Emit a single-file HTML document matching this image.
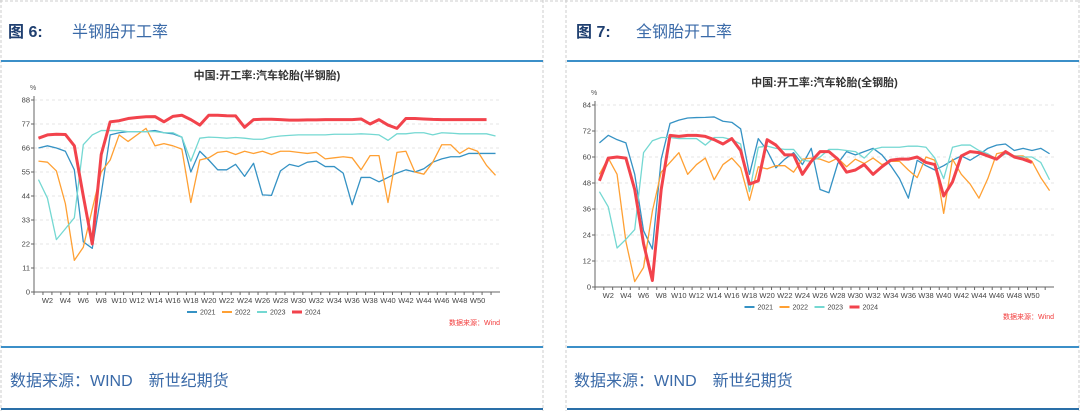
<!DOCTYPE html>
<html><head><meta charset="utf-8">
<style>
html,body{margin:0;padding:0;background:#fff;}
body{width:1080px;height:411px;overflow:hidden;position:relative;font-family:"Liberation Sans","Noto Sans CJK SC",sans-serif;}
svg{position:absolute;left:0;top:0;}
</style></head>
<body>
<svg id="s" width="1080" height="411">
  <g>
    <line x1="1" y1="0" x2="1" y2="411" stroke="#ccc" stroke-dasharray="3,2"/>
    <line x1="543" y1="0" x2="543" y2="411" stroke="#ccc" stroke-dasharray="3,2"/>
    <line x1="566" y1="0" x2="566" y2="411" stroke="#ccc" stroke-dasharray="3,2"/>
    <line x1="1079" y1="0" x2="1079" y2="411" stroke="#ccc" stroke-dasharray="3,2"/>
    <line x1="0" y1="1" x2="1080" y2="1" stroke="#ccc" stroke-dasharray="3,2"/>
    <rect x="1" y="60" width="542" height="2" fill="#3b8fc8"/>
    <rect x="567" y="60" width="512" height="2" fill="#3b8fc8"/>
    <rect x="1" y="346" width="542" height="2" fill="#3b8fc8"/>
    <rect x="567" y="346" width="512" height="2" fill="#3b8fc8"/>
    <rect x="1" y="408" width="542" height="2" fill="#2a6fa8"/>
    <rect x="567" y="408" width="512" height="2" fill="#2a6fa8"/>
  </g>
  <text x="8" y="37" font-size="16" fill="#1f3f70" font-weight="bold">图 6:</text>
  <text x="72" y="37" font-size="16" fill="#3a6aa8">半钢胎开工率</text>
  <text x="576" y="37" font-size="16" fill="#1f3f70" font-weight="bold">图 7:</text>
  <text x="636" y="37" font-size="16" fill="#3a6aa8">全钢胎开工率</text>
  <text x="10" y="386" font-size="16" fill="#3a6aa8">数据来源：WIND　新世纪期货</text>
  <text x="574" y="386" font-size="16" fill="#3a6aa8">数据来源：WIND　新世纪期货</text>
</svg>
<script>
const weeks = Array.from({length:52},(_,i)=>'W'+(i+1));
const semi2021=[66,67,66,64.5,56,23,20,45,72,73,73.5,73.5,73.5,74,73,72.5,71,55,64.5,60.5,56,56,58.5,53,59,44.5,44.3,55.5,58.5,57.5,59.5,60,57.5,57.5,54.5,40,52.5,52.5,50.5,52.5,54.5,56,55,56.5,59.5,61,62,62,63.5,63.5,63.5,63.5];
const semi2022=[60,59.5,55.5,40.5,14.5,20.5,38,55,60.5,72,69,72,75,67,68,67,65.5,41,60.5,61.5,64,64.5,63,64.5,63.5,64.5,63,64.5,64.5,64,63.5,64,61,61.5,62,61.5,56,62.5,62.5,41,64,64.5,55,54,59.5,67.5,67.5,63.5,66,64.5,58,53.5];
const semi2023=[51.5,43,24,29,34,67.5,72,74,74,74,73.5,73.5,73.5,73.5,73,73,71,60,70.5,71,70.8,70.5,70.8,70.5,70,70,71,71.5,71.8,72,72,72,72,72.3,72.3,72.3,72.5,72.3,72,69.5,72.5,72.5,73,73,72,73,72.8,72.5,72.5,72.5,72.5,71.5];
const semi2024=[70.5,72,72.3,72.2,67,44,22,63,78,78.5,79.5,80,80.3,80.4,78,80.5,81,79,76.5,81,81,80.8,80.7,75.5,79,79.2,79.2,79,78.8,78.8,78.9,78.9,79,79,79,79,79.3,77,79,76.5,75,79.5,79.5,79.3,79.1,79,79,79,79,79,79];
const full2021=[66.5,70,68,66.5,52,26,17.5,59,75.5,77,78,78.2,78.3,78.5,76.5,76,73,52,68.5,63,55,59,62,56.5,64,45,43.5,57,62.5,61,62.5,64,61,56,50,41,58.5,56,54,56,58.5,60.5,58.5,61,64,65.5,66,63,64,63,64,61.5];
const full2022=[52,59.5,52,21,2.5,9,35,53,57.5,62,52,56.5,59.5,49.5,56.5,59.5,55,40,55.5,54.5,56,56,53,59,59.5,59,57.5,59.5,55.5,59,57,59.5,56.5,58,58,54,50.5,60,58.5,34,59,52,47.5,41,50,61.5,62.5,60.5,60.5,58,50.5,44.5];
const full2023=[44,37,18,22,26.5,62,67.5,69,69,68.5,68.5,68.5,65.5,69,69,68,66,44,64.5,65,64,63.5,63.5,58.5,58,60,63.5,63.5,63,62.5,59.5,63.5,64.5,64.5,64.5,65,65,64.5,59.5,50,64.5,65.5,65.5,63,61.5,59,61.5,60.5,60,60,57.5,49.5];
const full2024=[49,59.5,60,59.5,45,20,3,45,70,69.5,70,70,69.5,68,66,68.5,63,47.5,49,68,65.5,61,61,52,58,62.5,62.5,59,53,54,56.5,52,55.5,58.5,59,59,60,57.5,56.5,42,48.5,60.5,62.5,62,60.5,59,62.5,60,59,57.5];
const semiTicks=[0,11,22,33,44,55,66,77,88];
const fullTicks=[0,12,24,36,48,60,72,84];
const years=['2021','2022','2023','2024'];
const colors=['#3592c4','#ffa033','#74d8d2','#f2434c'];
const NS='http://www.w3.org/2000/svg';
const svg=document.getElementById('s');
function mk(tag,attrs,parent){const e=document.createElementNS(NS,tag);for(const k in attrs)e.setAttribute(k,attrs[k]);(parent||svg).appendChild(e);return e;}
function chart(cfg){
  const g=mk('g',{});
  
  
  const x0=cfg.x0,x1=cfg.x1,y0=cfg.y0,y1=cfg.y1,max=cfg.ticks[cfg.ticks.length-1];
  const band=(x1-x0)/weeks.length;
  const xs=i=>x0+band*(i+0.5);
  const ys=v=>y0-(v/max)*(y0-y1);
  const t=mk('text',{x:(x0+x1)/2,y:cfg.titleY,'font-size':11,'font-weight':'bold','text-anchor':'middle',fill:'#333'},g);
  t.textContent=cfg.title;
  
  
  const u=mk('text',{x:x0-4,y:y1-10,'font-size':7,fill:'#555'},g);u.textContent='%';
  
  
  cfg.ticks.forEach(v=>{
    const y=ys(v);
    if(v>0)mk('line',{x1:x0,x2:x1,y1:y,y2:y,stroke:'#e6e6e6','stroke-dasharray':'3,3'},g);
    mk('line',{x1:x0-3,x2:x0,y1:y,y2:y,stroke:'#666'},g);
    const l=mk('text',{x:x0-4,y:y+2.5,'font-size':7.5,'text-anchor':'end',fill:'#444'},g);
    l.textContent=v;
    
    
  });
  mk('line',{x1:x0,x2:x0,y1:y1-4,y2:y0,stroke:'#666'},g);
  mk('line',{x1:x0,x2:x1,y1:y0,y2:y0,stroke:'#666'},g);
  weeks.forEach((w,i)=>{
    mk('line',{x1:x0+band*i,x2:x0+band*i,y1:y0,y2:y0+3,stroke:'#666'},g);
    if(i%2===1 && i<50){
      const l=mk('text',{x:xs(i),y:y0+11,'font-size':7.5,'text-anchor':'middle',fill:'#444'},g);
      l.textContent=w;
      
      
    }
  });
  cfg.series.forEach((d,k)=>{
    const p=mk('polyline',{points:d.map((v,i)=>xs(i)+','+ys(v)).join(' '),fill:'none',stroke:colors[k],'stroke-width':k===3?3:1.3,'stroke-linejoin':'round'},g);
    
    
  });
  const lx=(x0+x1)/2-80;
  years.forEach((yr,k)=>{
    const e=mk('g',{},g);
    
    
    const ex=lx+k*35;
    mk('rect',{x:ex,y:cfg.legendY-(k===3?1.5:1),width:10,height:k===3?3:2,fill:colors[k]},e);
    const tt=mk('text',{x:ex+13,y:cfg.legendY+2.5,'font-size':7,fill:'#444'},e);tt.textContent=yr;
  });
  const src=mk('text',{x:x1,y:cfg.srcY,'font-size':7,'text-anchor':'end',fill:'#f23b3b'},g);
  src.textContent='数据来源：Wind';
  
  
}
chart({name:'semi-steel-chart',title:'中国:开工率:汽车轮胎(半钢胎)',x0:34,x1:500,y0:292,y1:100,ticks:semiTicks,titleY:79,legendY:312,srcY:325,series:[semi2021,semi2022,semi2023,semi2024]});
chart({name:'all-steel-chart',title:'中国:开工率:汽车轮胎(全钢胎)',x0:595,x1:1054,y0:287,y1:105,ticks:fullTicks,titleY:86,legendY:307,srcY:319,series:[full2021,full2022,full2023,full2024]});
</script>
</body></html>
